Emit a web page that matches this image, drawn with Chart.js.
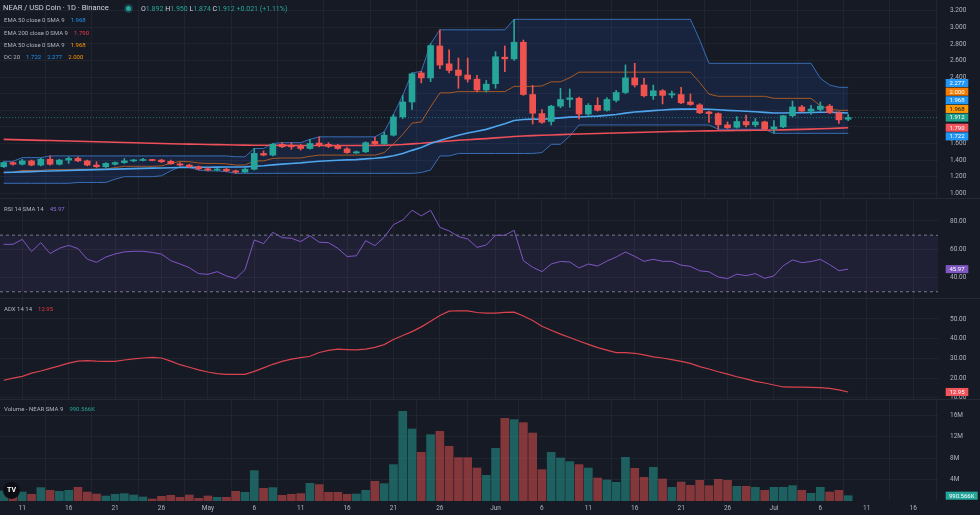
<!DOCTYPE html>
<html><head><meta charset="utf-8">
<script src="https://cdn.jsdelivr.net/npm/chart.js@4.4.1/dist/chart.umd.min.js"></script>
<style>
html,body{margin:0;padding:0;background:#161a25;width:980px;height:515px;overflow:hidden;font-family:Roboto,"Noto Sans",sans-serif;}
#wrap{position:relative;width:980px;height:515px;}
canvas{position:absolute;left:0;display:block;}
.lg{position:absolute;left:4px;font-size:6px;line-height:8px;color:#b2b5be;white-space:nowrap;}
.lg span{margin-left:6px;}
.sep{position:absolute;left:0;width:980px;height:1px;background:#252935;}
.k{color:#d1d4dc;}
</style></head>
<body><div id="wrap">
<canvas id="cPrice" width="980" height="198" style="top:0px"></canvas>
<canvas id="cRsi" width="980" height="100" style="top:198px"></canvas>
<canvas id="cAdx" width="980" height="101" style="top:298px"></canvas>
<canvas id="cVol" width="980" height="116" style="top:399px"></canvas>
<div class="sep" style="top:198px"></div>
<div class="sep" style="top:298px"></div>
<div class="sep" style="top:399px"></div>

<div class="lg" style="left:3px;top:3px;font-size:7.6px;line-height:10px;color:#d1d4dc">NEAR / USD Coin · 1D · Binance</div>
<div style="position:absolute;left:125.5px;top:5.5px;width:5px;height:5px;border-radius:50%;background:#26a69a;box-shadow:0 0 0 2px rgba(38,166,154,0.28)"></div>
<div class="lg" style="left:141px;top:3.5px;font-size:7px;line-height:10px;color:#26a69a"><b class="k" style="font-weight:normal">O</b>1.892 <b class="k" style="font-weight:normal">H</b>1.950 <b class="k" style="font-weight:normal">L</b>1.874 <b class="k" style="font-weight:normal">C</b>1.912 +0.021 (+1.11%)</div>
<div class="lg" style="top:16px">EMA 50 close 0 SMA 9<span style="color:#2196f3">1.968</span></div>
<div class="lg" style="top:29px">EMA 200 close 0 SMA 9<span style="color:#f23645">1.790</span></div>
<div class="lg" style="top:41px">EMA 50 close 0 SMA 9<span style="color:#ff9800">1.968</span></div>
<div class="lg" style="top:53px">DC 20<span style="color:#2196f3">1.722</span><span style="color:#2196f3">2.277</span><span style="color:#ff9800">2.000</span></div>
<div class="lg" style="top:205px">RSI 14 SMA 14<span style="color:#8e6bd6">45.97</span></div>
<div class="lg" style="top:305px">ADX 14 14<span style="color:#f23645">12.95</span></div>
<div class="lg" style="top:405px">Volume - NEAR SMA 9<span style="color:#26a69a">990.566K</span></div>
<div style="position:absolute;left:3px;top:482px;width:17px;height:17px;border-radius:50%;background:#0c0e14;color:#fff;font:bold 7px Roboto,sans-serif;line-height:17px;text-align:center">TV</div>
</div>
<script>
const FONT = 'Roboto, "Noto Sans", sans-serif';
const GRID = 'rgba(42,46,57,0.55)';
const AXIS_TXT = '#b2b5be';
const GREEN = '#26a69a', RED = '#ef5350';

// ---- time axis (day index 0 = Apr 9) ----
const tickIdx = [2,7,12,17,22,27,32,37,42,47,53,58,63,68,73,78,83,88,93,98];
const tickLabels = ['11','16','21','26','May','6','11','16','21','26','Jun','6','11','16','21','26','Jul','6','11','16'];
const X_MIN = -0.4, X_MAX = 100.68;

// ---- candles ----
const opens = [1.32,1.37,1.35,1.39,1.34,1.41,1.35,1.40,1.42,1.39,1.34,1.32,1.35,1.37,1.39,1.395,1.40,1.40,1.385,1.355,1.34,1.32,1.295,1.28,1.29,1.27,1.255,1.29,1.48,1.46,1.59,1.575,1.57,1.54,1.605,1.59,1.575,1.535,1.485,1.50,1.625,1.595,1.70,1.92,2.10,2.45,2.39,2.775,2.56,2.485,2.425,2.375,2.245,2.32,2.64,2.62,2.82,2.19,1.96,1.865,2.05,2.13,2.145,1.955,2.06,2.00,2.12,2.215,2.39,2.305,2.175,2.235,2.185,2.19,2.10,2.065,1.98,1.96,1.825,1.795,1.865,1.825,1.86,1.775,1.80,1.935,2.04,1.99,2.01,2.05,1.97,1.892];
const highs = [1.38,1.38,1.41,1.40,1.42,1.45,1.41,1.44,1.44,1.40,1.38,1.37,1.38,1.42,1.41,1.42,1.41,1.41,1.40,1.37,1.35,1.33,1.31,1.30,1.30,1.28,1.30,1.54,1.51,1.60,1.61,1.61,1.59,1.65,1.68,1.61,1.59,1.55,1.51,1.62,1.675,1.74,1.95,2.18,2.45,2.47,2.80,2.97,2.73,2.63,2.63,2.42,2.36,2.706,2.775,3.096,2.847,2.30,2.01,2.06,2.265,2.257,2.16,2.08,2.152,2.152,2.24,2.546,2.566,2.386,2.305,2.25,2.23,2.277,2.197,2.08,1.99,1.97,1.86,1.923,1.943,1.90,1.87,1.875,1.94,2.112,2.06,2.06,2.10,2.07,1.98,1.95];
const lows = [1.31,1.34,1.34,1.33,1.33,1.34,1.34,1.36,1.38,1.33,1.31,1.31,1.34,1.36,1.38,1.39,1.39,1.37,1.35,1.33,1.31,1.28,1.27,1.27,1.26,1.24,1.25,1.28,1.45,1.45,1.55,1.53,1.52,1.53,1.56,1.55,1.53,1.48,1.48,1.49,1.59,1.59,1.69,1.90,2.01,2.33,2.345,2.50,2.45,2.265,2.34,2.22,2.22,2.265,2.465,2.60,2.18,1.835,1.843,1.823,2.03,2.036,1.895,1.94,1.99,1.99,2.10,2.20,2.28,2.16,2.13,2.076,2.15,2.08,2.06,1.96,1.855,1.771,1.78,1.785,1.80,1.80,1.77,1.723,1.79,1.92,1.98,1.95,1.99,1.96,1.843,1.874];
const closes = [1.37,1.35,1.39,1.34,1.41,1.35,1.40,1.42,1.39,1.34,1.32,1.36,1.37,1.39,1.40,1.40,1.395,1.38,1.355,1.34,1.32,1.295,1.28,1.29,1.27,1.255,1.29,1.48,1.46,1.59,1.56,1.56,1.54,1.60,1.575,1.565,1.54,1.49,1.50,1.61,1.595,1.70,1.92,2.10,2.44,2.39,2.78,2.545,2.48,2.42,2.375,2.245,2.315,2.645,2.62,2.82,2.19,1.965,1.855,2.05,2.13,2.15,1.955,2.06,2.00,2.13,2.215,2.39,2.305,2.175,2.235,2.18,2.20,2.09,2.07,1.97,1.96,1.825,1.79,1.865,1.825,1.86,1.775,1.80,1.935,2.04,1.99,2.015,2.05,1.97,1.885,1.912];
// volume in millions
const volumes = [1.86,0.74,1.67,1.25,2.49,1.99,1.80,1.99,2.55,1.67,1.30,0.93,1.25,1.37,1.12,0.74,0.37,0.87,1.06,0.69,1.12,0.50,0.93,0.69,0.69,1.80,1.62,5.65,2.36,2.49,1.06,1.25,1.37,3.29,3.05,1.62,1.62,1.25,1.30,1.99,3.67,3.23,6.77,16.7,13.4,9.06,12.35,12.97,10.18,8.07,8.07,6.14,4.78,9.80,15.39,15.14,14.58,12.65,5.84,9.06,8.00,7.33,6.77,6.14,4.28,3.91,3.48,8.13,6.08,4.41,6.27,4.09,2.55,3.53,2.92,3.85,2.86,4.04,3.85,2.73,2.73,2.55,1.99,2.55,2.55,2.86,1.99,1.43,2.55,1.67,1.99,0.99];

// ---- overlays ----
const ema50 = [1.250,1.254,1.258,1.261,1.265,1.268,1.272,1.275,1.279,1.282,1.285,1.288,1.291,1.294,1.297,1.300,1.303,1.305,1.308,1.310,1.312,1.313,1.314,1.315,1.316,1.317,1.318,1.325,1.331,1.342,1.351,1.359,1.366,1.376,1.385,1.392,1.398,1.402,1.406,1.415,1.422,1.433,1.452,1.479,1.517,1.552,1.600,1.637,1.669,1.699,1.726,1.747,1.770,1.805,1.837,1.876,1.889,1.893,1.892,1.899,1.908,1.918,1.920,1.926,1.930,1.939,1.950,1.966,1.979,1.987,1.996,2.003,2.011,2.014,2.016,2.014,2.012,2.006,1.999,1.994,1.988,1.983,1.975,1.968,1.967,1.970,1.971,1.973,1.976,1.976,1.972,1.968];
const ema200 = [1.650,1.647,1.644,1.641,1.638,1.635,1.632,1.629,1.626,1.623,1.620,1.617,1.614,1.611,1.608,1.605,1.602,1.599,1.596,1.594,1.592,1.590,1.588,1.586,1.584,1.582,1.580,1.579,1.578,1.578,1.577,1.577,1.576,1.576,1.576,1.575,1.575,1.575,1.575,1.576,1.577,1.578,1.582,1.587,1.595,1.602,1.612,1.622,1.630,1.638,1.645,1.652,1.659,1.667,1.676,1.685,1.691,1.695,1.699,1.703,1.707,1.711,1.714,1.717,1.720,1.723,1.726,1.730,1.733,1.736,1.739,1.741,1.744,1.746,1.748,1.750,1.752,1.753,1.755,1.756,1.758,1.759,1.760,1.762,1.764,1.767,1.770,1.773,1.777,1.781,1.785,1.790];
const dcUpper = [1.385,1.385,1.43,1.43,1.43,1.45,1.45,1.45,1.45,1.45,1.45,1.45,1.45,1.45,1.45,1.45,1.45,1.45,1.45,1.45,1.45,1.45,1.45,1.45,1.45,1.44,1.44,1.54,1.54,1.60,1.61,1.61,1.61,1.65,1.68,1.68,1.68,1.68,1.68,1.68,1.68,1.74,1.95,2.18,2.45,2.47,2.80,2.97,2.97,2.97,2.97,2.97,2.97,2.97,2.97,3.096,3.096,3.096,3.096,3.096,3.096,3.096,3.096,3.096,3.096,3.096,3.096,3.096,3.096,3.096,3.096,3.096,3.096,3.096,3.096,2.847,2.566,2.566,2.566,2.566,2.566,2.566,2.566,2.566,2.566,2.566,2.566,2.566,2.386,2.305,2.277,2.277];
const dcLower = [1.12,1.12,1.12,1.12,1.12,1.12,1.12,1.12,1.13,1.13,1.13,1.13,1.17,1.20,1.20,1.20,1.20,1.21,1.27,1.32,1.31,1.28,1.27,1.27,1.26,1.24,1.24,1.24,1.24,1.24,1.24,1.24,1.24,1.24,1.24,1.24,1.24,1.24,1.24,1.24,1.24,1.24,1.24,1.24,1.24,1.25,1.28,1.45,1.45,1.48,1.48,1.48,1.48,1.48,1.48,1.48,1.48,1.48,1.49,1.59,1.59,1.69,1.823,1.823,1.823,1.823,1.823,1.823,1.823,1.823,1.823,1.823,1.823,1.823,1.823,1.823,1.823,1.771,1.771,1.771,1.771,1.771,1.771,1.722,1.722,1.722,1.722,1.722,1.722,1.722,1.722,1.722];
const dcBasis = [1.2525,1.2525,1.275,1.275,1.275,1.285,1.285,1.285,1.29,1.29,1.29,1.29,1.31,1.325,1.325,1.325,1.325,1.33,1.36,1.385,1.38,1.365,1.36,1.36,1.355,1.34,1.34,1.39,1.39,1.42,1.425,1.425,1.425,1.445,1.46,1.46,1.46,1.46,1.46,1.46,1.46,1.49,1.595,1.71,1.845,1.86,2.04,2.21,2.21,2.225,2.225,2.225,2.225,2.225,2.225,2.288,2.288,2.288,2.293,2.343,2.343,2.393,2.4595,2.4595,2.4595,2.4595,2.4595,2.4595,2.4595,2.4595,2.4595,2.4595,2.4595,2.4595,2.4595,2.335,2.1945,2.1685,2.1685,2.1685,2.1685,2.1685,2.1685,2.144,2.144,2.144,2.144,2.144,2.054,2.0135,1.9995,1.9995];
const rsi = [63.5,63.5,67,58.4,64.7,57,60.7,62.8,60.5,53,50.8,54.5,56.7,58.2,58.6,58.6,57.8,56.6,52,49.6,47,42.8,42.3,44.2,41.2,39.3,45.6,66.6,64,72,68.2,67.8,65.4,69.6,65,64.7,60.7,54.9,55.4,66.1,62.6,68.5,77.4,80.7,87.6,83.6,87.6,75.5,73,69,67.3,61.4,63,69.9,69.9,73.4,52,47.3,44.2,49.6,51.4,51,46.8,49.6,48.2,51.7,54.5,58.1,55,51.5,52.9,51.5,51.5,48.8,47.9,44.8,44.1,40.4,39.3,42.4,41.4,42.8,39.5,41.2,48.4,52.5,50.6,51.3,52.9,49.2,44.9,45.97];
const adx = [18.9,20,20.9,22.5,23.6,24.9,26.2,27.6,28.6,28.9,28.6,28.5,28.5,29.2,29.8,30.2,30.5,30.2,28.6,26.8,25.5,24.2,23.1,22.3,21.9,21.9,21.9,23.4,25.2,27,28.5,29.6,30.4,31.1,33,34.1,34.7,34.5,34.3,34.7,35.6,37,39.6,41.6,43.6,46,48.8,51.8,54,54.2,54.1,53.3,53,53,53.4,53.5,51.5,49.2,46.3,44.3,42.3,40.6,38.8,37.1,35.5,34.2,32.9,32.9,32.6,31.8,30.8,30.2,29.4,28.5,27.5,25.8,24.6,23.2,22,20.7,19.6,18.3,17.5,16.5,15.5,15.4,15.4,15.3,15.2,14.8,14,12.95];

const priceTicks = [1.0,1.2,1.4,1.6,1.8,2.0,2.2,2.4,2.6,2.8,3.0,3.2];
const rsiTicks = [40,60,80];
const adxTicks = [10,20,30,40,50];
const volTicks = [4,8,12,16];
const lastPrice = 1.912;

const idx = opens.map((_, i) => i);
const isUp = i => closes[i] >= opens[i];
const pts = arr => arr.map((v, i) => ({x: i, y: v}));

function xScale(showLabels) {
  return {
    type: 'linear', min: X_MIN, max: X_MAX, offset: false,
    grid: {color: GRID, drawTicks: false, lineWidth: 1},
    border: {display: false},
    ticks: {display: showLabels, color: AXIS_TXT, font: {size: 6.5, family: FONT}, padding: 3, maxRotation: 0, autoSkip: false,
      callback: v => { const k = tickIdx.indexOf(v); return k >= 0 ? tickLabels[k] : ''; }},
    afterBuildTicks: s => { s.ticks = tickIdx.map(v => ({value: v})); },
    afterFit: s => { s.height = showLabels ? 14 : 0; s.paddingLeft = 0; s.paddingRight = 0; }
  };
}
function yScale(min, max, ticks, fmt) {
  return {
    position: 'right', min: min, max: max,
    grid: {color: GRID, drawTicks: false, lineWidth: 1},
    border: {display: false},
    ticks: {color: AXIS_TXT, font: {size: 6.5, family: FONT}, padding: 12, callback: fmt},
    afterBuildTicks: s => { s.ticks = ticks.map(v => ({value: v})); },
    afterFit: s => { s.width = 42; s.paddingTop = 0; s.paddingBottom = 0; }
  };
}
function boxesPlugin(items, anchor) {
  return {
    id: 'boxes',
    afterDraw(chart) {
      const ctx = chart.ctx, ys = chart.scales.y, ca = chart.chartArea;
      const h = 8.65;
      const want = items.map(it => ys.getPixelForValue(it.v));
      const pos = want.slice();
      for (let k = anchor - 1; k >= 0; k--) pos[k] = Math.min(want[k], pos[k + 1] - h);
      for (let k = anchor + 1; k < items.length; k++) pos[k] = Math.max(want[k], pos[k - 1] + h);
      ctx.save();
      ctx.font = '6px ' + FONT;
      items.forEach((it, k) => {
        const w = it.w || 22.6;
        const x0 = ca.right + 7.7;
        ctx.fillStyle = it.bg;
        ctx.fillRect(x0, pos[k] - h / 2 + 0.3, w, h - 0.6);
        ctx.fillStyle = it.fg || '#ffffff';
        ctx.textAlign = 'center';
        ctx.textBaseline = 'middle';
        ctx.fillText(it.text, x0 + w / 2, pos[k] + 0.4);
      });
      ctx.restore();
    }
  };
}
const baseOpts = {
  responsive: false, animation: false, devicePixelRatio: 1, events: [],
  layout: {padding: 0, autoPadding: false},
  plugins: {legend: {display: false}, tooltip: {enabled: false}}
};

// ---- price pane ----
new Chart(document.getElementById('cPrice'), {
  type: 'line',
  data: {datasets: [
    {type: 'bar', data: idx.map(i => ({x: i, y: [opens[i], closes[i]]})), backgroundColor: idx.map(i => isUp(i) ? GREEN : RED),
     barThickness: 6, grouped: false, minBarLength: 1, borderWidth: 0, order: 0},
    {type: 'bar', data: idx.map(i => ({x: i, y: [lows[i], highs[i]]})), backgroundColor: idx.map(i => isUp(i) ? GREEN : RED),
     barThickness: 1, grouped: false, borderWidth: 0, order: 1},
    {data: pts(ema50), borderColor: '#4ea5ec', borderWidth: 1.6, pointRadius: 0, tension: 0, order: 2},
    {data: pts(ema200), borderColor: '#ee4f58', borderWidth: 1.6, pointRadius: 0, tension: 0, order: 3},
    {data: pts(dcBasis), borderColor: 'rgba(255,120,20,0.62)', borderWidth: 1, pointRadius: 0, tension: 0, order: 4},
    {data: [{x: X_MIN, y: lastPrice}, {x: X_MAX, y: lastPrice}], borderColor: 'rgba(38,166,154,0.6)', borderDash: [1, 2], borderWidth: 1, pointRadius: 0, order: 5},
    {data: pts(dcUpper), borderColor: '#3a6db5', borderWidth: 1, pointRadius: 0, tension: 0, order: 6},
    {data: pts(dcLower), borderColor: '#3a6db5', borderWidth: 1, pointRadius: 0, tension: 0, fill: '-1', backgroundColor: 'rgba(41,110,230,0.13)', order: 7}
  ]},
  options: Object.assign({}, baseOpts, {
    scales: {x: xScale(false), y: yScale(0.943, 3.329, priceTicks, v => v.toFixed(3))}
  }),
  plugins: [boxesPlugin([
    {v: 2.277, text: '2.277', bg: '#2196f3'},
    {v: 2.000, text: '2.000', bg: '#f57c00'},
    {v: 1.968, text: '1.968', bg: '#2196f3'},
    {v: 1.968, text: '1.968', bg: '#ff9800', fg: '#131722'},
    {v: 1.912, text: '1.912', bg: '#22a08c'},
    {v: 1.790, text: '1.790', bg: '#f0545c'},
    {v: 1.722, text: '1.722', bg: '#2196f3'}
  ], 4)]
});

// ---- RSI pane ----
new Chart(document.getElementById('cRsi'), {
  type: 'line',
  data: {datasets: [
    {data: pts(rsi), borderColor: '#7e57c2', borderWidth: 1, pointRadius: 0, tension: 0, order: 0},
    {data: [{x: X_MIN, y: 70}, {x: X_MAX, y: 70}], borderColor: 'rgba(150,150,170,0.75)', borderDash: [3, 3], borderWidth: 1, pointRadius: 0, order: 1},
    {data: [{x: X_MIN, y: 30}, {x: X_MAX, y: 30}], borderColor: 'rgba(150,150,170,0.75)', borderDash: [3, 3], borderWidth: 1, pointRadius: 0, fill: '-1', backgroundColor: 'rgba(126,87,194,0.1)', order: 2}
  ]},
  options: Object.assign({}, baseOpts, {
    scales: {x: xScale(false), y: yScale(25.58, 96.25, rsiTicks, v => v.toFixed(2))}
  }),
  plugins: [boxesPlugin([{v: 45.97, text: '45.97', bg: '#7e57c2'}], 0)]
});

// ---- ADX pane ----
new Chart(document.getElementById('cAdx'), {
  type: 'line',
  data: {datasets: [
    {data: pts(adx), borderColor: '#d9434f', borderWidth: 1.2, pointRadius: 0, tension: 0}
  ]},
  options: Object.assign({}, baseOpts, {
    scales: {x: xScale(false), y: yScale(9.39, 60.66, adxTicks, v => v.toFixed(2))}
  }),
  plugins: [boxesPlugin([{v: 12.95, text: '12.95', bg: '#f0545c'}], 0)]
});

// ---- Volume pane ----
new Chart(document.getElementById('cVol'), {
  type: 'line',
  data: {datasets: [
    {type: 'bar', data: idx.map(i => ({x: i, y: volumes[i]})), backgroundColor: idx.map(i => isUp(i) ? 'rgba(38,166,154,0.5)' : 'rgba(239,83,80,0.5)'),
     barThickness: 8, grouped: false, borderWidth: 0}
  ]},
  options: Object.assign({}, baseOpts, {
    scales: {x: xScale(true), y: yScale(0, 18.98, volTicks, v => v + 'M')}
  }),
  plugins: [boxesPlugin([{v: 0.99, text: '990.566K', bg: '#26a69a', w: 32}], 0)]
});
</script>
</body></html>
